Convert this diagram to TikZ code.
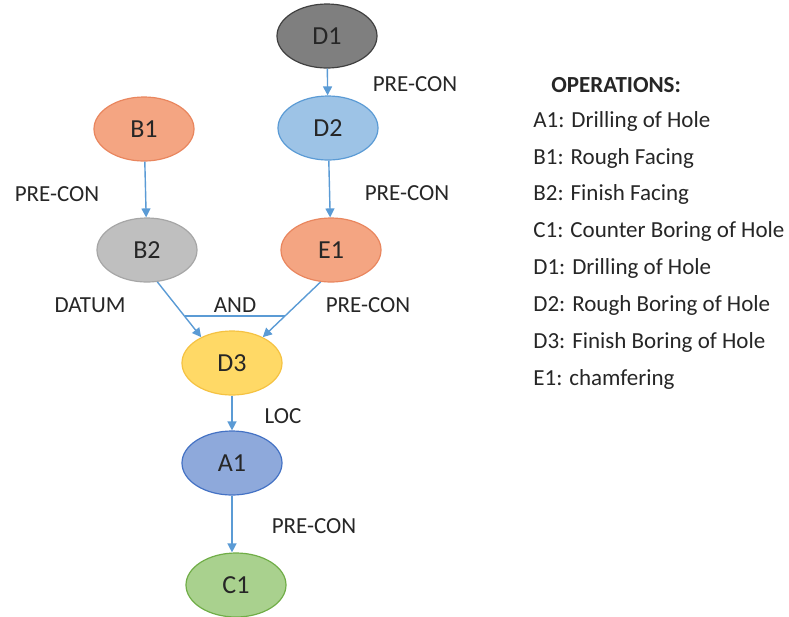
\documentclass[tikz,border=0pt]{standalone}
\usepackage{fontspec}
\setmainfont{Carlito}
\usepackage{xcolor}
\usetikzlibrary{shapes.geometric, positioning, arrows.meta}

\definecolor{flowblue}{HTML}{5B9BD5}
\definecolor{darkfill}{HTML}{7F7F7F}
\definecolor{lightblue}{HTML}{9DC3E6}
\definecolor{salmon}{HTML}{F4A582}
\definecolor{salmonline}{HTML}{E9865E}
\definecolor{midgrey}{HTML}{BFBFBF}
\definecolor{sand}{HTML}{FFD966}
\definecolor{sandline}{HTML}{F5C242}
\definecolor{violetblue}{HTML}{8EA9DB}
\definecolor{violetline}{HTML}{4472C4}
\definecolor{leaf}{HTML}{A9D18E}
\definecolor{leafline}{HTML}{70AD47}

\begin{document}
\begin{tikzpicture}[x=0.5pt, y=-0.5pt, font=\fontsize{11.5}{13}\selectfont,
    op/.style={ellipse, minimum width=50pt, minimum height=32pt, inner sep=0pt, line width=0.6pt,
      font=\fontsize{13}{15}\selectfont, text=black!85},
    flow/.style={draw=flowblue, line width=0.7pt, -{Triangle[length=4.5pt,width=4.5pt]}},
    tag/.style={inner sep=0pt, text=black!85},
    item/.style={anchor=west, inner sep=0pt, text=black!85}]
       \useasboundingbox (0,0) rectangle (789,617);

       % operations
       \node[op, fill=darkfill, draw=black!75] (D1) at (327,36) {D1};
       \node[op, fill=lightblue, draw=flowblue] (D2) at (328,128) {D2};
       \node[op, fill=salmon, draw=salmonline] (B1) at (144,129) {B1};
       \node[op, fill=midgrey, draw=black!35] (B2) at (147,250) {B2};
       \node[op, fill=salmon, draw=salmonline] (E1) at (331,250) {E1};
       \node[op, fill=sand, draw=sandline] (D3) at (232,363) {D3};
       \node[op, fill=violetblue, draw=violetline] (A1) at (232,463) {A1};
       \node[op, fill=leaf, draw=leafline] (C1) at (236,585) {C1};

       % links
       \draw[flow] (D1) -- (D2);
       \draw[flow] (D2) -- (E1);
       \draw[flow] (B1) -- (B2);
       \draw[flow] (B2.-72) -- coordinate[pos=0.62] (andL) (D3.140);
       \draw[flow] (E1.-108) -- coordinate[pos=0.62] (andR) (D3.40);
       \draw[flowblue, line width=0.7pt] (andL) -- (andL -| andR);
       \draw[flow] (D3) -- (A1);
       \draw[flow] (A1.south -| D3) -- (C1.north -| D3);

       % link labels
       \node[tag] (t1) at (415,84) {PRE-CON};
       \node[tag] (t2) at (57,194) {PRE-CON};
       \node[tag] (t3) at (407,193) {PRE-CON};
       \node[tag] (t4) at (90,305) {DATUM};
       \node[tag] (t5) at (235,305) {AND};
       \node[tag] (t6) at (368,305) {PRE-CON};
       \node[tag] (t7) at (283,416) {LOC};
       \node[tag] (t8) at (314,526) {PRE-CON};

       % legend
       \node[item, font=\fontsize{11.5}{13}\selectfont\bfseries] (head) at (551,85) {OPERATIONS:};
       \node[item] (l1) at (533,121) {A1: Drilling of Hole};
       \node[item] (l2) at (533,158) {B1: Rough Facing};
       \node[item] (l3) at (533,194) {B2: Finish Facing};
       \node[item] (l4) at (533,231) {C1: Counter Boring of Hole};
       \node[item] (l5) at (533,268) {D1: Drilling of Hole};
       \node[item] (l6) at (533,305) {D2: Rough Boring of Hole};
       \node[item] (l7) at (533,342) {D3: Finish Boring of Hole};
       \node[item] (l8) at (533,379) {E1: chamfering};
\end{tikzpicture}
\end{document}
